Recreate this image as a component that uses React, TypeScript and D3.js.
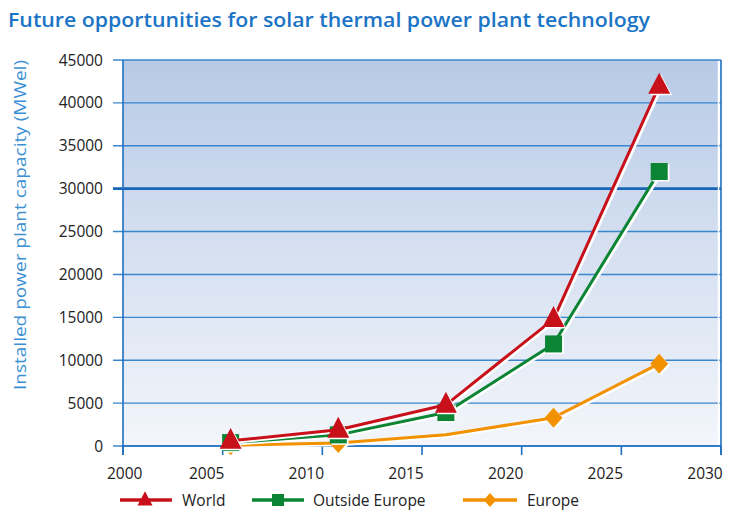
import React from "react";
import * as d3 from "d3";

const years = [2005.4, 2010.8, 2016.2, 2021.6, 2026.9];
const world = [600, 1900, 4800, 14800, 42000];
const outsideEurope = [400, 1300, 3900, 11900, 32000];
const europe = [100, 350, 1300, 3300, 9600];
const europeMarkers = [true, true, false, true, true];
const xTicks = [2000, 2005, 2010, 2015, 2020, 2025, 2030];
const yTicks = [0, 5000, 10000, 15000, 20000, 25000, 30000, 35000, 40000, 45000];

const title = "Future opportunities for solar thermal power plant technology";
const yLabel = "Installed power plant capacity (MWel)";

const W = 736, H = 512;
const left = 123, right = 721, top = 60, bottom = 446;

const RED = "#c8101a";
const GREEN = "#0b8433";
const ORANGE = "#f39200";
const GRID = "#3a86cc";
const AXIS = "#1f6fc0";
const TXT = "#222";
const FONT = "'Open Sans', sans-serif";

function marker(type: string, cx: number, cy: number, s: number, color: string, key: string) {
  if (type === "tri") {
    const h = s * 0.95;
    const pts = [
      [cx, cy - h * 0.62],
      [cx - s / 2, cy + h * 0.38],
      [cx + s / 2, cy + h * 0.38],
    ];
    return <polygon key={key} points={pts.map((p) => p.join(",")).join(" ")} fill={color} />;
  }
  if (type === "sq") {
    return <rect key={key} x={cx - s / 2} y={cy - s / 2} width={s} height={s} fill={color} />;
  }
  const pts = [
    [cx, cy - s / 2],
    [cx + s * 0.45, cy],
    [cx, cy + s / 2],
    [cx - s * 0.45, cy],
  ];
  return <polygon key={key} points={pts.map((p) => p.join(",")).join(" ")} fill={color} />;
}

export default function App() {
  const x = d3.scaleLinear().domain([2000, 2030]).range([left, right]);
  const y = d3.scaleLinear().domain([0, 45000]).range([bottom, top]);
  const line = d3
    .line<number>()
    .x((_, i) => x(years[i]))
    .y((d) => y(d));

  const series = [
    { name: "Europe", data: europe, color: ORANGE, type: "dia", size: 20, marks: europeMarkers },
    { name: "Outside Europe", data: outsideEurope, color: GREEN, type: "sq", size: 17, marks: years.map(() => true) },
    { name: "World", data: world, color: RED, type: "tri", size: 22, marks: years.map(() => true) },
  ];

  const legend = [
    { name: "World", color: RED, type: "tri", x1: 120, x2: 172, mx: 145, tx: 182, size: 15 },
    { name: "Outside Europe", color: GREEN, type: "sq", x1: 252, x2: 304, mx: 278, tx: 313, size: 12 },
    { name: "Europe", color: ORANGE, type: "dia", x1: 463, x2: 517, mx: 490, tx: 527, size: 14 },
  ];

  return (
    <svg width={W} height={H} style={{ position: "absolute", left: 0, top: 0, background: "#fff" }}>
      <defs>
        <linearGradient id="bg" x1="0" y1="0" x2="0" y2="1">
          <stop offset="0" stopColor="#b7cae6" />
          <stop offset="0.5" stopColor="#d6e0f1" />
          <stop offset="1" stopColor="#f3f6fb" />
        </linearGradient>
      </defs>
      <rect x={0} y={0} width={W} height={H} fill="#fff" />
      <text x={8} y={27} fontFamily={FONT} fontWeight={600} fontSize={19} fill="#1b74c5" textLength={642} lengthAdjust="spacingAndGlyphs">
        {title}
      </text>
      <rect x={left} y={top} width={right - left - 3} height={bottom - top} fill="url(#bg)" />
      {yTicks.map((t) => (
        <g key={"y" + t}>
          <line
            x1={113}
            x2={right}
            y1={y(t)}
            y2={y(t)}
            stroke={t === 30000 ? "#1565b8" : GRID}
            strokeWidth={t === 30000 ? 2.6 : 1.4}
          />
          <text x={103} y={y(t) + 5.5} textAnchor="end" fontFamily={FONT} fontSize={15.5} fill={TXT}>
            {t}
          </text>
        </g>
      ))}
      <line x1={left} x2={left} y1={top} y2={bottom + 9} stroke={AXIS} strokeWidth={1.6} />
      <line x1={right} x2={right} y1={top} y2={bottom + 9} stroke={AXIS} strokeWidth={1.6} />
      <line x1={right - 2.5} x2={right - 2.5} y1={top + 1} y2={bottom - 1} stroke="#fff" strokeWidth={1.5} />
      <line x1={left} x2={right} y1={bottom} y2={bottom} stroke={AXIS} strokeWidth={1.6} />
      {xTicks.map((t, i) => (
        <g key={"x" + t}>
          <line x1={x(t)} x2={x(t)} y1={bottom} y2={bottom + 9} stroke={AXIS} strokeWidth={1.6} />
          <text
            x={x(t) - 16}
            y={bottom + 33}
            textAnchor={i === 0 ? "start" : "middle"}
            fontFamily={FONT}
            fontSize={15.5}
            fill={TXT}
          >
            {t}
          </text>
        </g>
      ))}
      <text
        transform={`translate(26,${(60 + 390) / 2}) rotate(-90)`}
        textAnchor="middle"
        fontFamily={FONT}
        fontSize={16}
        fill="#3b8fd3"
        textLength={330}
        lengthAdjust="spacingAndGlyphs"
      >
        {yLabel}
      </text>
      {series.map((s) => (
        <g key={s.name}>
          <path d={line(s.data) || ""} fill="none" stroke="#fff" strokeWidth={4} transform="translate(1.8,1.2)" strokeLinejoin="round" />
          <path d={line(s.data) || ""} fill="none" stroke={s.color} strokeWidth={3} strokeLinejoin="round" />
          {s.data.map((d, i) =>
            s.marks[i] ? (
              <g key={i}>
                <g transform="translate(1.8,1.5)">{marker(s.type, x(years[i]), y(d), s.size, "#fff", "w" + i)}</g>
                {marker(s.type, x(years[i]), y(d), s.size, s.color, "m" + i)}
              </g>
            ) : null
          )}
        </g>
      ))}
      {legend.map((l) => (
        <g key={"l" + l.name}>
          <line x1={l.x1} x2={l.x2} y1={500} y2={500} stroke={l.color} strokeWidth={3.5} />
          {marker(l.type, l.mx, 500, l.size, l.color, "lm" + l.name)}
          <text x={l.tx} y={505.5} fontFamily={FONT} fontSize={15.5} fill={TXT}>
            {l.name}
          </text>
        </g>
      ))}
    </svg>
  );
}
